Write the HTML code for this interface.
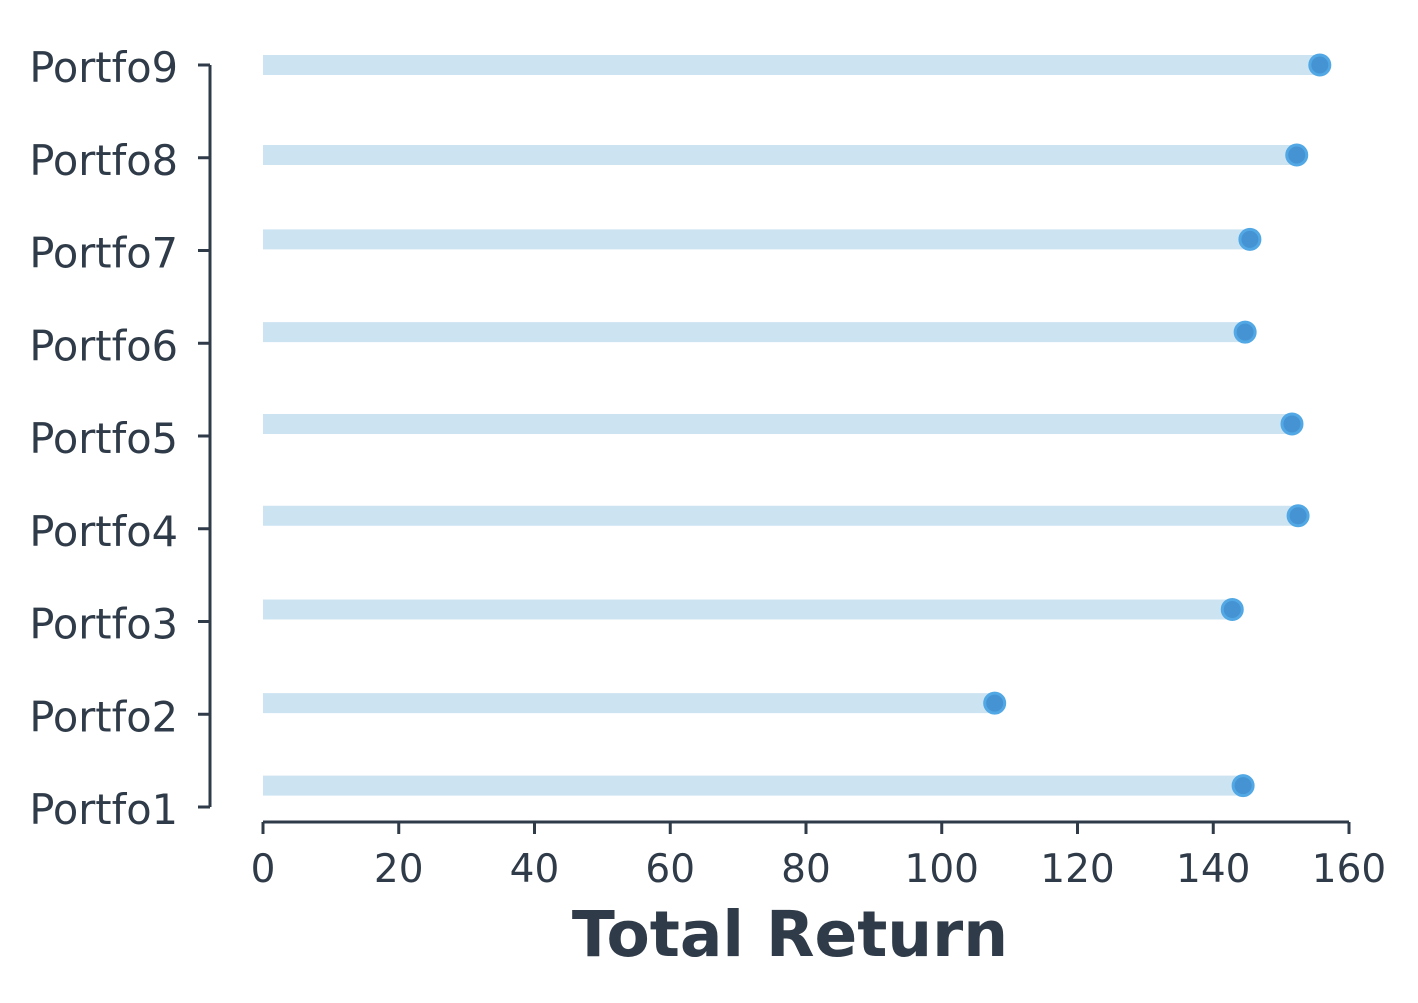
<!DOCTYPE html>
<html><head><meta charset="utf-8"><style>
html,body{margin:0;padding:0;background:#fff;}
svg text{font-family:"DejaVu Sans","Liberation Sans",sans-serif;fill:#2f3b48;}
</style></head><body>
<svg id="chart" width="1418" height="998" viewBox="0 0 1418 998" xmlns="http://www.w3.org/2000/svg"></svg>
<script>
const categories = ["Portfo1","Portfo2","Portfo3","Portfo4","Portfo5","Portfo6","Portfo7","Portfo8","Portfo9"];
const returns = [144.4,107.8,142.8,152.5,151.6,144.7,145.4,152.3,155.7];
const barPositions = [1.23,2.12,3.13,4.14,5.13,6.12,7.12,8.03,9.0];
const xTicks = [0,20,40,60,80,100,120,140,160];

const svg = document.getElementById('chart');
const NS = 'http://www.w3.org/2000/svg';
const xScale = v => 263 + v * (1349 - 263) / 160;
const yScale = v => 807 - (v - 1) * (807 - 65) / 8;
function mk(tag, attrs, parent) {
  const e = document.createElementNS(NS, tag);
  for (const k in attrs) e.setAttribute(k, attrs[k]);
  (parent || svg).appendChild(e);
  return e;
}
categories.forEach((c, i) => {
  const y = yScale(barPositions[i]);
  const bar = mk('line', {x1: xScale(0), x2: xScale(returns[i]), y1: y, y2: y, stroke: '#cce3f2', 'stroke-width': 20});
  
  
});
categories.forEach((c, i) => {
  const y = yScale(barPositions[i]);
  const dot = mk('circle', {cx: xScale(returns[i]), cy: y, r: 10, fill: '#4593d2', stroke: '#52a8e4', 'stroke-width': 3});
  
  
});
const ya = mk('line', {x1: 210, x2: 210, y1: yScale(1), y2: yScale(9), stroke: '#2f3b48', 'stroke-width': 3});


categories.forEach((c, i) => {
  const y = yScale(i + 1);
  mk('line', {x1: 198, x2: 210, y1: y, y2: y, stroke: '#2f3b48', 'stroke-width': 3});
  const t = mk('text', {x: 178, y: y + 17, 'text-anchor': 'end', 'font-size': 41.5});
  t.textContent = c;
  
  
});
const xa = mk('line', {x1: xScale(0), x2: xScale(160), y1: 822, y2: 822, stroke: '#2f3b48', 'stroke-width': 3});


xTicks.forEach(v => {
  const x = xScale(v);
  mk('line', {x1: x, x2: x, y1: 822, y2: 834, stroke: '#2f3b48', 'stroke-width': 3});
  const t = mk('text', {x: x, y: 882, 'text-anchor': 'middle', 'font-size': 39});
  t.textContent = v;
  
  
});
const title = mk('text', {x: 790, y: 956, 'text-anchor': 'middle', 'font-size': 63, 'font-weight': 'bold'});
title.textContent = 'Total Return';


</script>
</body></html>
